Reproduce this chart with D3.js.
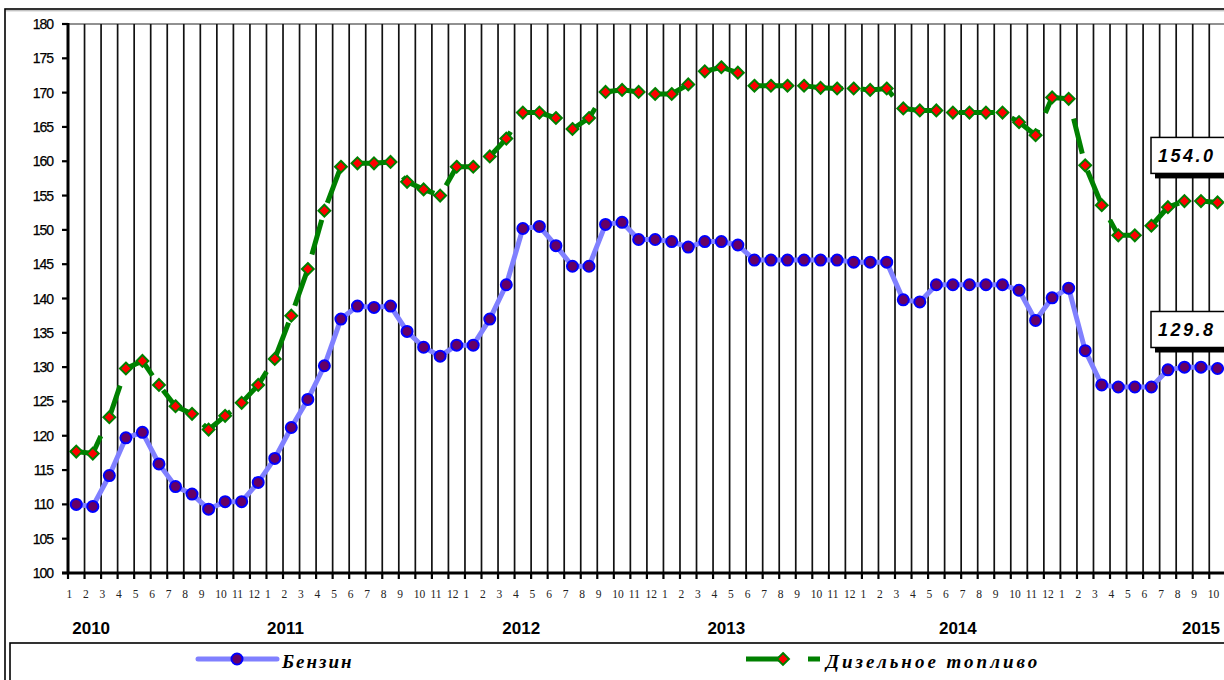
<html>
    <head>
        <meta charset="utf-8">
        <title>Бензин и дизельное топливо</title>
        <script type="text/javascript" src="https://cdn.jsdelivr.net/npm/d3@7"></script>
        <style type="text/css">
            body { margin: 0; background: #fff; }
            #chartholder { width: 1224px; height: 680px; overflow: hidden; }
        </style>
    </head>
    <body>
        <div id='chartholder'></div>

        <script type="text/javascript">

            // month labels, 2010-01 .. 2015-10
            var monthLabels = [
                '1','2','3','4','5','6','7','8','9','10','11','12',
                '1','2','3','4','5','6','7','8','9','10','11','12',
                '1','2','3','4','5','6','7','8','9','10','11','12',
                '1','2','3','4','5','6','7','8','9','10','11','12',
                '1','2','3','4','5','6','7','8','9','10','11','12',
                '1','2','3','4','5','6','7','8','9','10'
            ];
            var yearLabels = ['2010', '2011', '2012', '2013', '2014', '2015'];
            var yTicks = [100, 105, 110, 115, 120, 125, 130, 135, 140, 145, 150, 155, 160, 165, 170, 175, 180];

            var seriesNames = ['Бензин', 'Дизельное топливо'];

            var benzin = [
                110.0, 109.7, 114.2, 119.7, 120.5, 115.9, 112.6, 111.5, 109.3, 110.4, 110.4, 113.2,
                116.7, 121.2, 125.3, 130.2, 137.0, 138.9, 138.7, 138.9, 135.2, 132.9, 131.6, 133.2,
                133.2, 137.0, 142.0, 150.2, 150.5, 147.7, 144.7, 144.7, 150.8, 151.1, 148.6, 148.6,
                148.3, 147.5, 148.3, 148.3, 147.8, 145.6, 145.6, 145.6, 145.6, 145.6, 145.6, 145.3,
                145.3, 145.3, 139.8, 139.5, 142.0, 142.0, 142.0, 142.0, 142.0, 141.2, 136.8, 140.1,
                141.5, 132.4, 127.4, 127.1, 127.1, 127.1, 129.6, 130.0, 130.0, 129.8
            ];

            var diesel = [
                117.7, 117.4, 122.7, 129.8, 130.9, 127.4, 124.3, 123.2, 120.9, 122.9, 124.8, 127.4,
                131.2, 137.5, 144.3, 152.8, 159.2, 159.7, 159.7, 159.9, 157.0, 155.9, 155.0, 159.2,
                159.2, 160.7, 163.3, 167.1, 167.1, 166.3, 164.7, 166.3, 170.1, 170.4, 170.1, 169.8,
                169.8, 171.2, 173.1, 173.7, 172.9, 171.0, 171.0, 171.0, 171.0, 170.7, 170.6, 170.6,
                170.4, 170.6, 167.7, 167.4, 167.4, 167.1, 167.1, 167.1, 167.1, 165.7, 163.8, 169.3,
                169.1, 159.4, 153.6, 149.2, 149.2, 150.6, 153.3, 154.2, 154.2, 154.0
            ];

            // where the year captions sit, in month-band units (layout only)
            var yearAnchor = [1.4, 13.15, 27.4, 39.8, 53.8, 68.5];

            function makeChart() {
                var width = 1224, height = 680;
                var plot = {left: 68, top: 24, bottom: 573, step: 16.54};

                var svg = d3.select('#chartholder')
                    .append('svg')
                        .attr('width', width)
                        .attr('height', height)
                        .style('font-family', 'Arial, "Liberation Sans", sans-serif');

                var idx = monthLabels.map(function(d, i) { return i; });

                var xScale = d3.scaleBand()
                    .domain(idx)
                    .range([plot.left, plot.left + plot.step * idx.length])
                    .paddingInner(0).paddingOuter(0);

                var yScale = d3.scaleLinear()
                    .domain([100, 180])
                    .range([plot.bottom, plot.top]);

                function cx(i) { return xScale(i) + xScale.bandwidth() / 2; }

                // outer chart frame
                svg.append('rect')
                    .attr('x', 5).attr('y', 9)
                    .attr('width', width + 20).attr('height', height + 20)
                    .attr('fill', 'none')
                    .attr('stroke', '#000')
                    .attr('stroke-width', 1.6);
                svg.append('line')
                    .attr('x1', 6).attr('x2', width)
                    .attr('y1', 10.8).attr('y2', 10.8)
                    .attr('stroke', '#aaa').attr('stroke-width', 1);

                // plot area top edge
                svg.append('line')
                    .attr('x1', plot.left).attr('x2', width)
                    .attr('y1', plot.top).attr('y2', plot.top)
                    .attr('stroke', '#222').attr('stroke-width', 1);

                // vertical gridlines at the month boundaries
                var bounds = idx.slice(1).concat([idx.length]);
                svg.append('g')
                    .selectAll('line')
                    .data(bounds)
                    .enter().append('line')
                        .attr('x1', function(k) { return plot.left + k * xScale.bandwidth(); })
                        .attr('x2', function(k) { return plot.left + k * xScale.bandwidth(); })
                        .attr('y1', plot.top)
                        .attr('y2', plot.bottom)
                        .attr('stroke', '#111')
                        .attr('stroke-width', 1.7);

                // x axis: thick line, ticks at boundaries
                var xAxis = svg.append('g');
                xAxis.append('line')
                    .attr('x1', plot.left - 6).attr('x2', width)
                    .attr('y1', plot.bottom).attr('y2', plot.bottom)
                    .attr('stroke', '#000').attr('stroke-width', 3);
                xAxis.selectAll('line.tick')
                    .data([0].concat(bounds))
                    .enter().append('line')
                        .attr('class', 'tick')
                        .attr('x1', function(k) { return plot.left + k * xScale.bandwidth(); })
                        .attr('x2', function(k) { return plot.left + k * xScale.bandwidth(); })
                        .attr('y1', plot.bottom)
                        .attr('y2', plot.bottom + 6)
                        .attr('stroke', '#000')
                        .attr('stroke-width', 2.2);

                xAxis.selectAll('text.month')
                    .data(monthLabels)
                    .enter().append('text')
                        .attr('class', 'month')
                        .attr('x', function(d, i) { return xScale(i) - 1.5; })
                        .attr('y', 598)
                        .attr('text-anchor', 'start')
                        .style('font-family', '"Liberation Serif", "Times New Roman", serif')
                        .style('font-size', '11.5px')
                        .attr('fill', '#222')
                        .text(function(d) { return d; });

                xAxis.selectAll('text.year')
                    .data(yearLabels)
                    .enter().append('text')
                        .attr('class', 'year')
                        .attr('x', function(d, i) { return plot.left + yearAnchor[i] * xScale.bandwidth(); })
                        .attr('y', 634)
                        .attr('text-anchor', 'middle')
                        .style('font-size', '17px')
                        .style('font-weight', 'bold')
                        .attr('fill', '#000')
                        .text(function(d) { return d; });

                // y axis
                var yAxis = svg.append('g');
                yAxis.append('line')
                    .attr('x1', plot.left).attr('x2', plot.left)
                    .attr('y1', plot.top - 1).attr('y2', plot.bottom + 1)
                    .attr('stroke', '#000').attr('stroke-width', 3);
                yAxis.selectAll('line.tick')
                    .data(yTicks)
                    .enter().append('line')
                        .attr('class', 'tick')
                        .attr('x1', plot.left - 6).attr('x2', plot.left)
                        .attr('y1', function(d) { return yScale(d); })
                        .attr('y2', function(d) { return yScale(d); })
                        .attr('stroke', '#000').attr('stroke-width', 2.2);
                yAxis.selectAll('text')
                    .data(yTicks)
                    .enter().append('text')
                        .attr('x', 53)
                        .attr('y', function(d) { return yScale(d) + 5; })
                        .attr('text-anchor', 'end')
                        .style('font-size', '14px')
                        .style('letter-spacing', '-1px')
                        .style('stroke', '#000')
                        .style('stroke-width', 0.25)
                        .attr('fill', '#000')
                        .text(function(d) { return d; });

                var line = d3.line()
                    .x(function(d, i) { return cx(i); })
                    .y(function(d) { return yScale(d); });

                // diesel: dashed green with red diamonds
                svg.append('path')
                    .datum(diesel)
                    .attr('d', line)
                    .attr('fill', 'none')
                    .attr('stroke', '#008000')
                    .attr('stroke-width', 5)
                    .attr('stroke-dasharray', '36,18');

                var diamond = d3.symbol().type(d3.symbolDiamond2).size(90);

                svg.append('g')
                    .selectAll('path')
                    .data(diesel)
                    .enter().append('path')
                        .attr('d', diamond)
                        .attr('transform', function(d, i) { return 'translate(' + cx(i) + ',' + yScale(d) + ')'; })
                        .attr('fill', '#ff0000')
                        .attr('stroke', '#008000')
                        .attr('stroke-width', 2);

                // benzin: light blue line with purple dots
                svg.append('path')
                    .datum(benzin)
                    .attr('d', line)
                    .attr('fill', 'none')
                    .attr('stroke', '#8080ff')
                    .attr('stroke-width', 5)
                    .attr('stroke-linejoin', 'round');

                svg.append('g')
                    .selectAll('circle')
                    .data(benzin)
                    .enter().append('circle')
                        .attr('cx', function(d, i) { return cx(i); })
                        .attr('cy', function(d) { return yScale(d); })
                        .attr('r', 5.5)
                        .attr('fill', '#660066')
                        .attr('stroke', '#0000ff')
                        .attr('stroke-width', 2);

                // last-value callouts
                var last = [
                    {value: diesel[diesel.length - 1], lift: 65},
                    {value: benzin[benzin.length - 1], lift: 57}
                ];
                var callouts = svg.append('g')
                    .selectAll('g')
                    .data(last)
                    .enter().append('g')
                        .attr('transform', function(d) { return 'translate(1151,' + (yScale(d.value) - d.lift) + ')'; });
                callouts.append('rect')
                    .attr('x', 4).attr('y', 5)
                    .attr('width', 100).attr('height', 36)
                    .attr('fill', '#000');
                callouts.append('rect')
                    .attr('x', 0).attr('y', 0)
                    .attr('width', 100).attr('height', 36)
                    .attr('fill', '#fff')
                    .attr('stroke', '#000')
                    .attr('stroke-width', 1.5);
                callouts.append('text')
                    .attr('x', 7).attr('y', 24.5)
                    .style('font-size', '18px')
                    .style('font-weight', 'bold')
                    .style('font-style', 'italic')
                    .style('letter-spacing', '2.5px')
                    .attr('fill', '#000')
                    .text(function(d) { return d.value.toFixed(1); });

                // legend
                var legend = svg.append('g');
                legend.append('rect')
                    .attr('x', 10).attr('y', 643)
                    .attr('width', width).attr('height', 60)
                    .attr('fill', '#fff')
                    .attr('stroke', '#000')
                    .attr('stroke-width', 1.6);

                var legendFont = '"Liberation Serif", "Times New Roman", serif';

                legend.append('line')
                    .attr('x1', 198).attr('x2', 277)
                    .attr('y1', 659).attr('y2', 659)
                    .attr('stroke', '#8080ff').attr('stroke-width', 5)
                    .attr('stroke-linecap', 'round');
                legend.append('circle')
                    .attr('cx', 237).attr('cy', 659).attr('r', 5.5)
                    .attr('fill', '#660066').attr('stroke', '#0000ff').attr('stroke-width', 2);
                legend.append('text')
                    .attr('x', 282).attr('y', 668)
                    .style('font-family', legendFont)
                    .style('font-size', '19px')
                    .style('font-weight', 'bold')
                    .style('font-style', 'italic')
                    .style('letter-spacing', '2px')
                    .text(seriesNames[0]);

                legend.append('line')
                    .attr('x1', 746).attr('x2', 820)
                    .attr('y1', 659).attr('y2', 659)
                    .attr('stroke', '#008000').attr('stroke-width', 5)
                    .attr('stroke-dasharray', '38,24');
                legend.append('path')
                    .attr('d', diamond)
                    .attr('transform', 'translate(783,659)')
                    .attr('fill', '#ff0000')
                    .attr('stroke', '#008000')
                    .attr('stroke-width', 2);
                legend.append('text')
                    .attr('x', 826).attr('y', 668)
                    .style('font-family', legendFont)
                    .style('font-size', '19px')
                    .style('font-weight', 'bold')
                    .style('font-style', 'italic')
                    .style('letter-spacing', '3px')
                    .text(seriesNames[1]);
            }

            makeChart();

        </script>
    </body>
</html>
